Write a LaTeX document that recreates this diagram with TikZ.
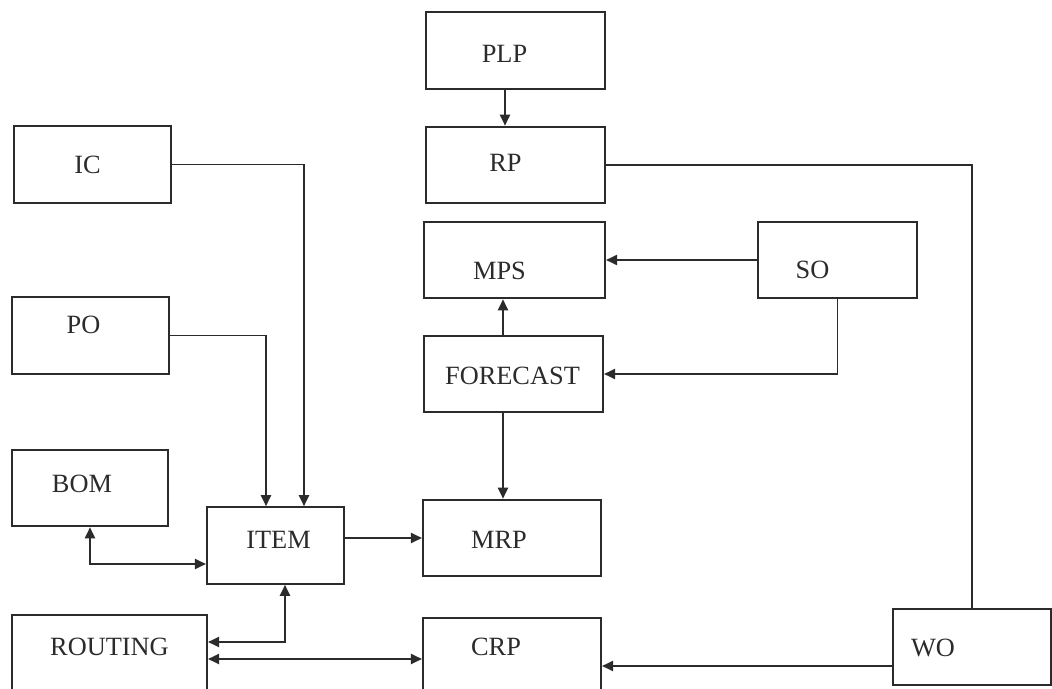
\documentclass[tikz,border=0pt]{standalone}
\usepackage{fontspec}
\setmainfont{Liberation Serif}
\usetikzlibrary{arrows.meta}
\definecolor{ink}{HTML}{2B2B2B}

\begin{document}
\begin{tikzpicture}[x=0.02cm, y=-0.02cm,
    box/.style={draw=ink, line width=1.2pt, inner sep=0pt, minimum height=1.53cm},
    txt/.style={text=ink, font=\fontsize{15}{18}\selectfont},
    >={Triangle[length=2.2mm, width=2mm]},
    link/.style={draw=ink, line width=1.1pt}]
    \useasboundingbox (0,0) rectangle (1052,689);
    \clip (0,0) rectangle (1052,689);

    % boxes
    \node[box, minimum width=3.58cm, label={[txt, xshift=-0.22cm, yshift=-0.06cm]center:PLP}] (plp) at (515.5,50.5) {};
    \node[box, minimum width=3.58cm, label={[txt, xshift=-0.2cm, yshift=0.04cm]center:RP}] (rp) at (515.5,165) {};
    \node[box, minimum width=3.14cm, label={[txt, xshift=-0.1cm]center:IC}] (ic) at (92.5,164.5) {};
    \node[box, minimum width=3.62cm, label={[txt, xshift=-0.3cm, yshift=-0.22cm]center:MPS}] (mps) at (514.5,260) {};
    \node[box, minimum width=3.18cm, label={[txt, xshift=-0.5cm, yshift=-0.2cm]center:SO}] (so) at (837.5,260) {};
    \node[box, minimum width=3.14cm, label={[txt, xshift=-0.14cm, yshift=0.22cm]center:PO}] (po) at (90.5,335.5) {};
    \node[box, minimum width=3.58cm, label={[txt, xshift=-0.02cm, yshift=-0.04cm]center:FORECAST}] (forecast) at (513.5,374) {};
    \node[box, minimum width=3.12cm, label={[txt, xshift=-0.16cm, yshift=0.08cm]center:BOM}] (bom) at (90,488) {};
    \node[box, minimum width=2.74cm, label={[txt, xshift=0.06cm, yshift=0.12cm]center:ITEM}] (item) at (275.5,545.5) {};
    \node[box, minimum width=3.56cm, label={[txt, xshift=-0.26cm, yshift=-0.04cm]center:MRP}] (mrp) at (512,538) {};
    \node[box, minimum width=3.9cm, label={[txt, yshift=0.12cm]center:ROUTING}] (routing) at (109.5,653) {};
    \node[box, minimum width=3.56cm, label={[txt, xshift=-0.32cm, yshift=0.18cm]center:CRP}] (crp) at (512,656) {};
    \node[box, minimum width=3.16cm, label={[txt, xshift=-0.78cm, yshift=-0.02cm]center:WO}] (wo) at (972,647) {};

    % connectors
    \draw[link, ->] ([xshift=-0.21cm]plp.south) coordinate (plp-out) -- (plp-out |- rp.north);
    \draw[link] (rp.east) -| (wo.north);
    \draw[link, ->] (so.west) -- (mps.east);
    \draw[link, ->] (so.south) |- (forecast.east);
    \draw[link, ->] ([xshift=-0.21cm]forecast.north) coordinate (fc-up) -- (fc-up |- mps.south);
    \draw[link, ->] ([xshift=-0.21cm]forecast.south) coordinate (fc-down) -- (fc-down |- mrp.north);
    \draw[link, ->] (ic.east) -| ([xshift=0.57cm]item.north);
    \draw[link, ->] (po.east) -| ([xshift=-0.19cm]item.north);
    \draw[link, ->] (item.east |- mrp.west) -- (mrp.west);
    \draw[link, <->] (bom.south) |- ([yshift=-0.37cm]item.west);
    \draw[link, <->] ([xshift=0.19cm]item.south) |- ([yshift=0.22cm]routing.east);
    \draw[link, <->] ([yshift=-0.12cm]routing.east) coordinate (rt-out) -- (rt-out -| crp.west);
    \draw[link, ->] ([yshift=-0.38cm]wo.west) coordinate (wo-out) -- (wo-out -| crp.east);
\end{tikzpicture}
\end{document}
